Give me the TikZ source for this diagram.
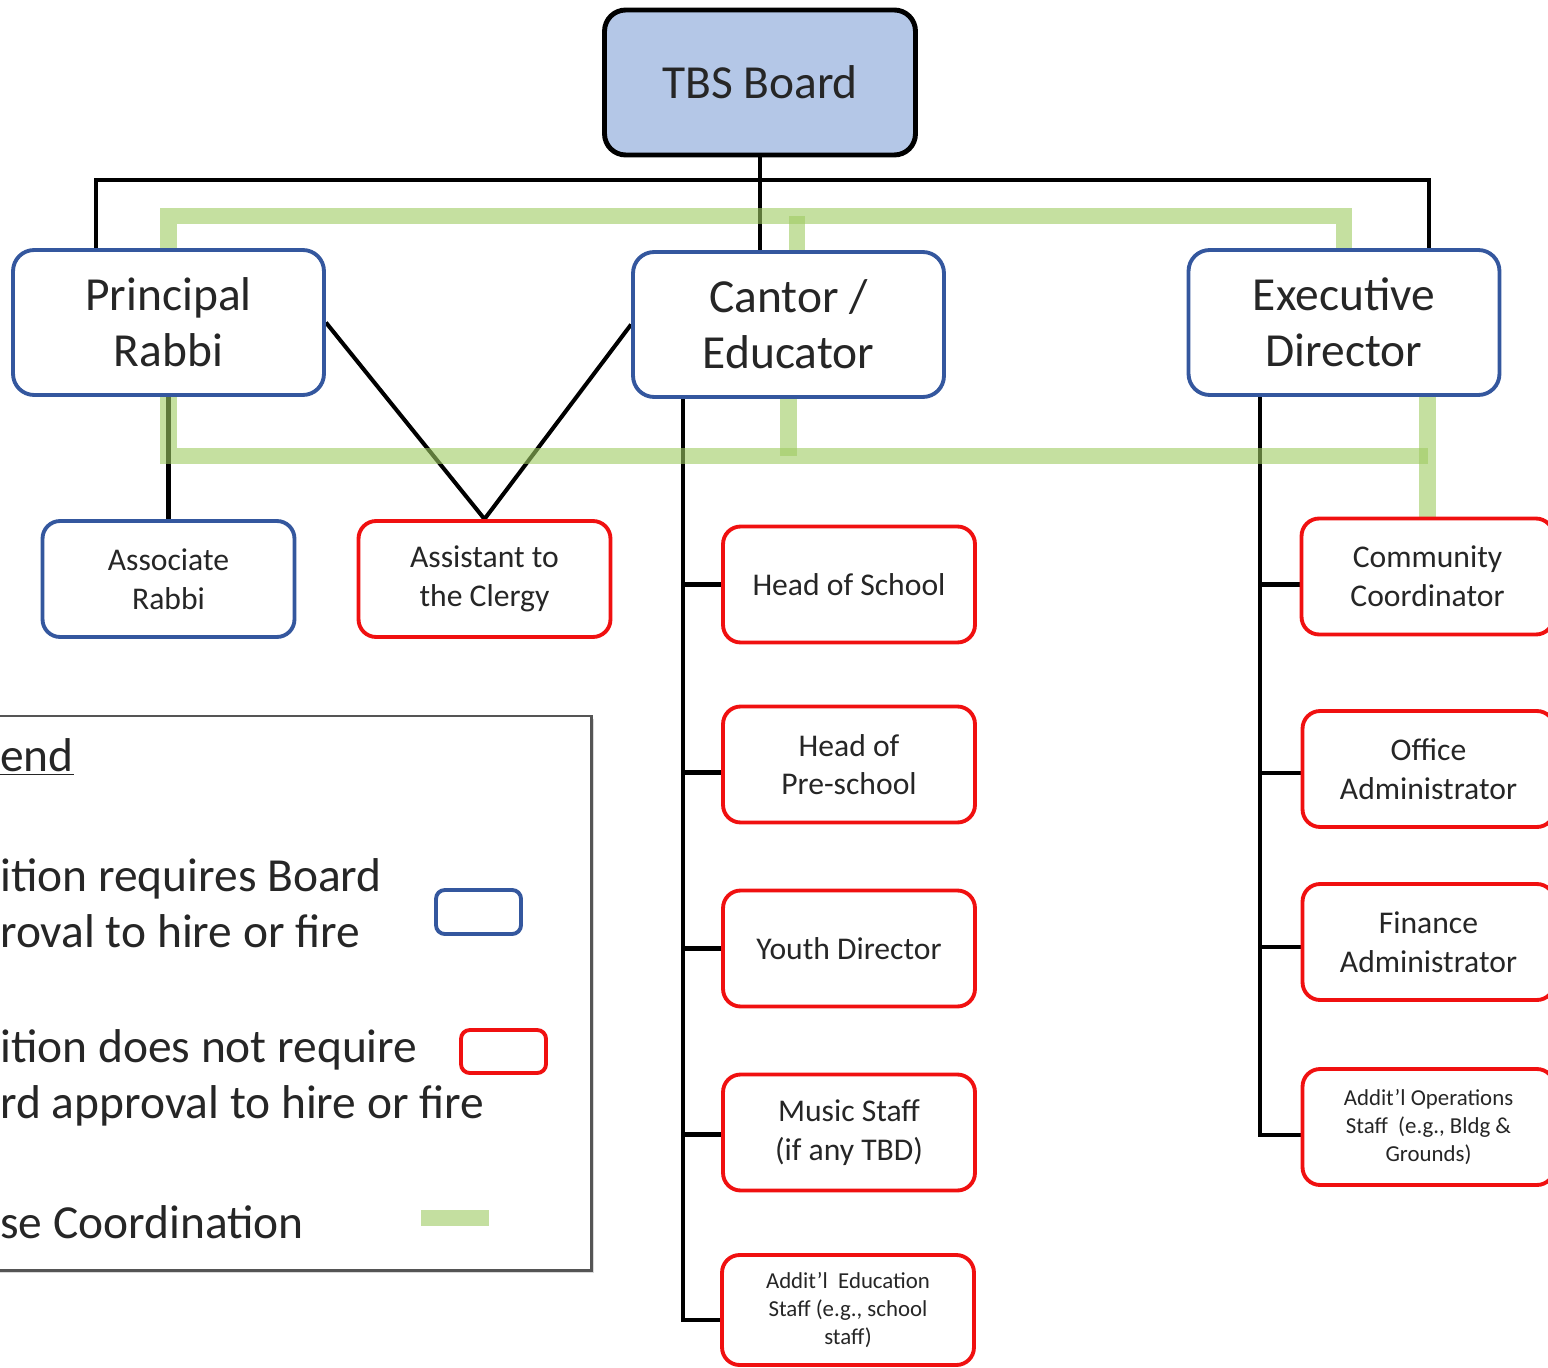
\documentclass[tikz,border=0pt]{standalone}
\usepackage{fontspec}
\setmainfont{Carlito}
\usepackage{xcolor}
\usetikzlibrary{calc, backgrounds, shadows}

\definecolor{boardfill}{RGB}{180,199,231}
\definecolor{hireblue}{RGB}{52,87,158}
\definecolor{hirered}{RGB}{240,16,16}
\definecolor{closegreen}{RGB}{158,203,97}
\definecolor{legendgray}{RGB}{85,85,85}

\begin{document}
\begin{tikzpicture}[x=0.02cm, y=-0.02cm,
		box/.style={draw, line width=2.2pt, fill=white, align=center, inner sep=0pt, text=black!85},
		bigbox/.style={box, draw=hireblue, rounded corners=12pt, minimum width=6.22cm, minimum height=2.9cm, font=\fontsize{27}{32}\selectfont},
		smallbox/.style={box, rounded corners=10pt, minimum width=5.04cm, minimum height=2.32cm, font=\fontsize{18}{22}\selectfont},
		bluebox/.style={smallbox, draw=hireblue},
		redbox/.style={smallbox, draw=hirered},
		tinytext/.style={font=\fontsize{13}{16}\selectfont},
		conn/.style={line width=2.3pt, black},
		closeline/.style={line width=9.5pt, closegreen, opacity=0.6},
		legtext/.style={anchor=west, inner sep=0pt, align=left, text=black!85, font=\fontsize{27}{32}\selectfont}]

		\path [use as bounding box] (0,0) rectangle (1548,1368);
		\clip (0,0) rectangle (1548,1368);

		\node [bigbox, draw=black, fill=boardfill, line width=2.8pt] (tbs) at (760,82.5) {TBS Board};

		\node [bigbox] (rabbi) at (168.5,322.5) {Principal\\Rabbi};
		\node [bigbox] (cantor) at (788.5,324.5) {Cantor /\\Educator};
		\node [bigbox] (exec) at (1344,322.5) {Executive\\Director};

		\node [bluebox] (assoc) at (168.5,579) {Associate\\Rabbi};
		\node [redbox] (asst) at (484.5,579) {Assistant to\\the Clergy};

		\node [redbox] (school) at (849,584.5) {Head of School};
		\node [redbox] (preschool) at (849,764.5) {Head of\\Pre-school};
		\node [redbox] (youth) at (849,948.5) {Youth Director};
		\node [redbox] (music) at (849,1132.5) {Music Staff\\(if any TBD)};
		\node [redbox, tinytext, minimum height=2.2cm] (edstaff) at (848,1310) {Addit’l~ Education\\Staff (e.g., school\\staff)};

		\node [redbox] (community) at (1427.5,576.5) {Community\\Coordinator};
		\node [redbox] (office) at (1428.5,769) {Office\\Administrator};
		\node [redbox] (finance) at (1428.5,942) {Finance\\Administrator};
		\node [redbox, tinytext] (opsstaff) at (1428.5,1127) {Addit’l Operations\\Staff~ (e.g., Bldg \&\\Grounds)};

		\begin{pgfonlayer}{background}
			\coordinate (bus) at (760,180);
			\coordinate (gtop) at (797,216);
			\coordinate (gbot) at (789,456);

			\draw [conn] (tbs.south) -- (tbs.south |- cantor.north);
			\draw [conn] ($(rabbi.north west)+(85,0)$) |- (bus) -| ($(exec.north west)+(242,0)$);
			\draw [conn] (rabbi.east) -- (asst.north) -- (cantor.west);
			\draw [conn] (rabbi.south) -- (assoc.north);

			\coordinate (ctrunk) at ($(cantor.south west)+(52,0)$);
			\foreach \n/\d in {school/0, preschool/8, youth/0, music/2, edstaff/10}
			{
				\draw [conn] (ctrunk) |- ($(\n.west)+(0,\d)$);
			}
			\coordinate (etrunk) at ($(exec.south west)+(73,0)$);
			\foreach \n/\d in {community/8, office/4, finance/5, opsstaff/8}
			{
				\draw [conn] (etrunk) |- ($(\n.west)+(0,\d)$);
			}

			\draw [closeline] (rabbi.north) |- (gtop) -| (exec.north);
			\draw [closeline] (gtop) -- (gtop |- cantor.north);
			\draw [closeline] (rabbi.south) |- (gbot -| community.north);
			\draw [closeline] (cantor.south) -- (cantor.south |- gbot);
			\draw [closeline] (exec.south -| community.north) -- (community.north);
		\end{pgfonlayer}

		\draw [legendgray, line width=1.7pt, fill=white, drop shadow={opacity=0.3, shadow xshift=1.5pt, shadow yshift=-1.5pt}] (-60,716) rectangle (591,1270);

		\node [legtext] (legtitle) at (0,757) {\underline{end}};
		\node [legtext] (leghire) at (0,903) {ition requires Board\\roval to hire or fire};
		\node [legtext] (legfree) at (0,1078) {ition does not require\\rd approval to hire or fire};
		\node [legtext] (legclose) at (0,1222) {se Coordination};

		\node [draw=hireblue, line width=2.2pt, rounded corners=5pt, minimum width=1.7cm, minimum height=0.88cm] (legblue) at (478.5,912) {};
		\node [draw=hirered, line width=2.2pt, rounded corners=5pt, minimum width=1.7cm, minimum height=0.86cm] (legred) at (503.5,1051.5) {};
		\fill [closegreen, opacity=0.6] (421,1210) rectangle (489,1226);
	\end{tikzpicture}
\end{document}
